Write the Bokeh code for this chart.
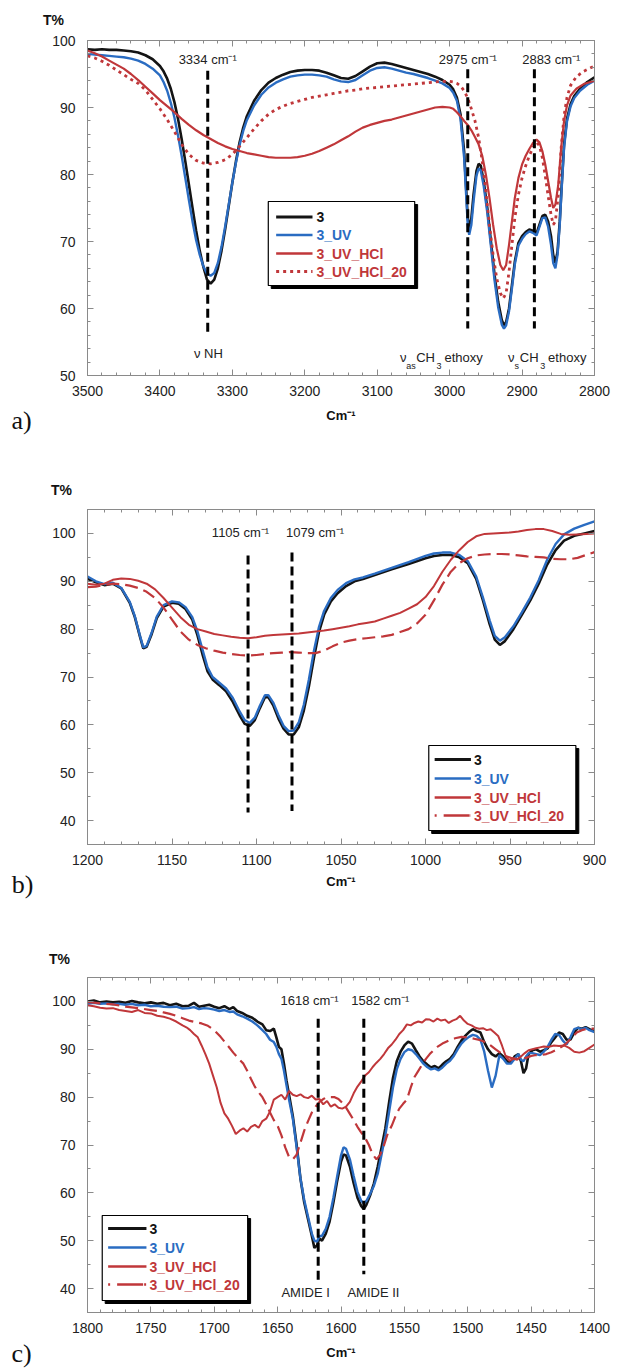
from bokeh.plotting import figure
from bokeh.models import (Range1d, LinearAxis, SingleIntervalTicker, Label,
                          CustomJSTickFormatter)
from bokeh.layouts import column
from bokeh.embed import file_html
from bokeh.resources import INLINE

# ---------------------------------------------------------------- data
# a) N-H / C-H stretching region
A_WN = [3500, 3490, 3480, 3470, 3460, 3450, 3440, 3430, 3420, 3410,
        3400, 3395, 3390, 3385, 3380, 3375, 3370, 3365, 3360, 3355,
        3350, 3345, 3340, 3335, 3330, 3325, 3320, 3315, 3310, 3305,
        3300, 3295, 3290, 3285, 3280, 3270, 3260, 3250, 3240, 3230,
        3220, 3210, 3200, 3190, 3180, 3170, 3160, 3150, 3140, 3130,
        3120, 3110, 3100, 3090, 3080, 3070, 3060, 3050, 3040, 3030,
        3020, 3010, 3000, 2995, 2990, 2985, 2980, 2977, 2975, 2973,
        2970, 2967, 2963, 2960, 2957, 2953, 2948, 2943, 2938, 2933,
        2928, 2925, 2922, 2918, 2914, 2910, 2905, 2900, 2895, 2890,
        2885, 2880, 2876, 2872, 2868, 2864, 2860, 2857, 2854, 2851,
        2848, 2845, 2842, 2838, 2833, 2828, 2820, 2810, 2800]
A_T_3 = [98.7, 98.6, 98.7, 98.6, 98.6, 98.5, 98.4, 98.2, 97.8, 97.2,
         96.2, 95.4, 94.3, 92.8, 90.8, 88.3, 85.3, 82.0, 78.5, 75.0,
         71.6, 68.6, 66.2, 64.3, 63.7, 64.3, 66.0, 68.6, 71.8, 75.3,
         78.8, 82.0, 84.8, 87.0, 88.7, 91.0, 92.6, 93.7, 94.4, 94.9,
         95.3, 95.5, 95.6, 95.6, 95.5, 95.2, 94.8, 94.4, 94.3, 94.7,
         95.4, 96.1, 96.6, 96.7, 96.5, 96.2, 95.9, 95.6, 95.3, 95.0,
         94.6, 94.1, 93.4, 92.7, 91.5, 89.0, 83.5, 77.5, 73.5, 72.0,
         73.5, 77.0, 80.5, 81.6, 81.3, 79.0, 75.0, 70.0, 65.0, 61.0,
         58.3, 57.5, 58.0, 60.0, 63.5, 67.0, 69.8, 70.8, 71.4, 71.8,
         71.6, 71.2, 72.5, 73.8, 74.0, 73.0, 70.8, 68.0, 66.8, 68.5,
         73.0, 79.0, 84.5, 88.3, 90.5, 91.7, 92.8, 93.8, 94.5]
A_T_3UV = [98.0, 97.9, 97.8, 97.7, 97.6, 97.5, 97.3, 97.0, 96.5, 95.8,
           94.8, 93.8, 92.5, 90.7, 88.5, 85.8, 82.8, 79.5, 76.2, 73.0,
           70.2, 68.0, 66.3, 65.2, 64.9, 65.3, 66.8, 69.2, 72.2, 75.5,
           78.8, 81.8, 84.4, 86.5, 88.1, 90.3, 91.9, 93.0, 93.7, 94.2,
           94.6, 94.8, 94.9, 94.9, 94.8, 94.6, 94.2, 93.9, 93.8, 94.1,
           94.8, 95.5, 95.9, 96.0, 95.8, 95.5, 95.2, 95.0, 94.7, 94.4,
           94.0, 93.6, 92.9, 92.2, 91.0, 88.3, 82.5, 76.5, 72.5, 71.0,
           72.5, 76.0, 79.8, 80.9, 80.6, 78.3, 74.3, 69.3, 64.2, 60.2,
           57.6, 57.0, 57.5, 59.6, 63.0, 66.6, 69.4, 70.4, 71.1, 71.5,
           71.3, 70.9, 72.2, 73.5, 73.6, 72.2, 69.5, 66.8, 66.0, 68.0,
           72.5, 78.5, 84.0, 87.9, 90.2, 91.4, 92.5, 93.4, 94.0]
A_WN_HCL = [3500, 3490, 3480, 3470, 3460, 3450, 3440, 3430, 3420, 3410,
            3400, 3390, 3380, 3370, 3360, 3350, 3340, 3330, 3320, 3310,
            3300, 3290, 3280, 3270, 3260, 3250, 3240, 3230, 3220, 3210,
            3200, 3190, 3180, 3170, 3160, 3150, 3140, 3130, 3120, 3110,
            3100, 3090, 3080, 3070, 3060, 3050, 3040, 3030, 3020, 3010,
            3000, 2995, 2990, 2985, 2980, 2975, 2970, 2965, 2960, 2955,
            2950, 2945, 2940, 2935, 2930, 2926, 2922, 2918, 2914, 2910,
            2905, 2900, 2895, 2890, 2885, 2880, 2876, 2872, 2868, 2864,
            2860, 2857, 2854, 2850, 2846, 2842, 2838, 2833, 2825, 2815,
            2800]
A_T_HCL = [98.5, 98.1, 97.6, 97.0, 96.4, 95.8, 95.0, 94.1, 93.1, 92.1,
           91.1, 90.2, 89.3, 88.3, 87.4, 86.6, 85.9, 85.3, 84.7, 84.2,
           83.8, 83.5, 83.2, 83.0, 82.8, 82.6, 82.5, 82.5, 82.5, 82.6,
           82.8, 83.1, 83.5, 84.0, 84.5, 85.1, 85.7, 86.4, 87.0, 87.4,
           87.7, 88.0, 88.2, 88.5, 88.8, 89.1, 89.4, 89.7, 90.0, 90.1,
           90.0, 89.8, 89.3, 88.7, 88.0, 87.4, 86.6, 85.6, 84.5, 82.8,
           80.0, 76.5, 72.5, 69.0, 66.5, 65.7, 66.5, 69.5, 73.0, 76.5,
           79.5, 81.5, 82.8, 83.8, 84.7, 85.2, 84.8, 83.5, 81.5, 79.0,
           76.5, 75.0, 75.5, 78.5, 84.0, 88.0, 90.3, 91.8, 92.8, 93.5,
           94.0]
A_T_HCL20 = [97.7, 97.4, 96.9, 96.3, 95.6, 94.9, 94.2, 93.6, 92.6, 91.2,
             89.8, 88.2, 86.4, 84.5, 83.0, 82.1, 81.7, 81.6, 81.8, 82.2,
             83.0, 84.2, 85.5, 86.8, 88.0, 89.0, 89.7, 90.2, 90.6, 90.9,
             91.2, 91.5, 91.7, 91.9, 92.1, 92.3, 92.5, 92.6, 92.8, 92.9,
             93.0, 93.1, 93.2, 93.3, 93.4, 93.5, 93.6, 93.7, 93.8, 93.9,
             93.9, 93.8, 93.6, 93.2, 92.5, 91.4, 89.8, 88.0, 85.5, 82.0,
             77.5, 72.5, 68.0, 64.5, 62.3, 61.5, 62.3, 65.5, 69.5, 73.5,
             77.0, 79.5, 81.3, 82.8, 84.0, 84.8, 84.3, 82.5, 79.8, 76.8,
             74.0, 72.5, 73.0, 77.0, 84.0, 88.8, 91.5, 93.3, 94.6, 95.4,
             96.2]
A_MARK_WN = [3334, 2975, 2883]
A_MARK_TOP = [95.5, 95.7, 95.7]
A_MARK_BOTTOM = [56.5, 57.0, 57.0]

# b) Si-O-C / Si-O-Si region
B_WN = [1200, 1195, 1190, 1185, 1180, 1175, 1172, 1169, 1167, 1165,
        1162, 1159, 1155, 1150, 1146, 1142, 1138, 1135, 1132, 1129,
        1126, 1122, 1118, 1114, 1110, 1107, 1104, 1101, 1098, 1095,
        1093, 1090, 1087, 1084, 1081, 1078, 1075, 1072, 1069, 1066,
        1063, 1060, 1056, 1052, 1047, 1042, 1037, 1030, 1020, 1010,
        1000, 995, 990, 985, 980, 975, 970, 966, 962, 959,
        956, 953, 948, 943, 938, 933, 928, 923, 918, 912,
        906, 900]
B_T_3 = [90.5, 89.8, 89.2, 89.5, 88.5, 85.5, 82.5, 78.5, 76.0, 76.3,
         79.0, 82.3, 84.7, 85.5, 85.3, 84.2, 82.0, 78.8, 74.8, 71.2,
         69.5, 68.3, 67.0, 64.8, 62.0, 60.2, 59.8, 61.0, 63.5, 65.8,
         65.8, 64.0, 61.3, 59.2, 58.0, 58.0, 59.5, 63.0, 68.0, 74.0,
         79.5, 83.0, 85.8, 87.5, 89.0, 90.0, 90.5, 91.3, 92.5, 93.6,
         94.8, 95.3, 95.5, 95.5, 95.0, 93.8, 90.5, 86.0, 81.0, 77.8,
         76.7, 77.5, 80.0, 83.0, 86.0, 89.5, 93.5, 96.5, 98.5, 99.5,
         100.0, 100.5]
B_T_3UV = [91.0, 90.0, 89.4, 89.7, 88.6, 85.7, 82.7, 78.7, 76.2, 76.5,
           79.3, 82.6, 85.0, 85.8, 85.6, 84.6, 82.5, 79.6, 75.8, 72.0,
           70.0, 68.8, 67.6, 65.6, 62.8, 61.0, 60.4, 61.5, 64.0, 66.2,
           66.2, 64.6, 62.0, 59.8, 58.7, 58.8, 60.5, 64.2, 69.5, 75.5,
           80.5, 83.8, 86.5, 88.2, 89.6, 90.4, 90.8, 91.6, 92.8, 94.0,
           95.3, 95.8, 96.0, 96.0, 95.5, 94.2, 91.0, 86.6, 81.8, 78.6,
           77.6, 78.3, 80.6, 83.5, 86.6, 90.2, 94.5, 97.8, 99.8, 101.0,
           101.8, 102.5]
B_WN_HCL = [1200, 1195, 1190, 1185, 1180, 1175, 1170, 1165, 1160, 1155,
            1150, 1145, 1140, 1135, 1130, 1125, 1120, 1115, 1110, 1105,
            1100, 1095, 1090, 1085, 1080, 1075, 1070, 1065, 1060, 1055,
            1050, 1045, 1040, 1035, 1030, 1025, 1020, 1015, 1010, 1005,
            1000, 995, 990, 985, 980, 975, 970, 965, 960, 955,
            950, 945, 940, 935, 930, 925, 920, 915, 910, 905,
            900]
B_T_HCL = [89.5, 89.3, 89.5, 90.3, 90.6, 90.5, 90.1, 89.5, 88.3, 86.5,
           84.5, 82.5, 80.9, 80.0, 79.5, 79.0, 78.7, 78.4, 78.2, 78.1,
           78.3, 78.6, 78.8, 78.9, 79.0, 79.1, 79.3, 79.5, 79.7, 80.0,
           80.3, 80.6, 81.0, 81.3, 81.6, 82.2, 82.8, 83.4, 84.3, 85.2,
           86.7, 89.0, 92.0, 94.5, 96.5, 98.2, 99.4, 99.9, 100.0, 100.1,
           100.2, 100.4, 100.7, 100.9, 100.9, 100.5, 99.9, 99.7, 99.8, 99.9,
           100.0]
B_T_HCL20 = [88.8, 88.9, 89.2, 89.5, 89.4, 89.1, 88.6, 87.8, 86.5, 84.5,
             82.0, 79.5, 77.8, 76.7, 76.0, 75.5, 75.1, 74.8, 74.6, 74.5,
             74.6, 74.8, 75.0, 75.1, 75.2, 75.1, 75.0, 75.0, 75.5, 76.4,
             77.2, 77.6, 77.9, 78.1, 78.3, 78.5, 78.8, 79.4, 80.0, 81.2,
             83.0, 86.0, 89.3, 92.0, 93.8, 94.8, 95.4, 95.6, 95.7, 95.7,
             95.6, 95.4, 95.2, 95.1, 95.0, 94.7, 94.6, 94.6, 94.9, 95.5,
             96.1]
B_MARK_WN = [1105, 1079]
B_MARK_TOP = [95.4, 96.0]
B_MARK_BOTTOM = [41.7, 42.0]

# c) amide region
C_WN = [1800, 1795, 1790, 1785, 1780, 1775, 1770, 1765, 1760, 1755,
        1750, 1745, 1740, 1735, 1730, 1725, 1720, 1716, 1712, 1708,
        1704, 1700, 1696, 1692, 1688, 1685, 1682, 1678, 1674, 1670,
        1666, 1662, 1659, 1656, 1653, 1651, 1649, 1647, 1645, 1643,
        1641, 1638, 1635, 1632, 1629, 1626, 1623, 1621, 1619, 1617,
        1615, 1612, 1609, 1606, 1603, 1600, 1598, 1596, 1593, 1590,
        1587, 1584, 1582, 1580, 1577, 1574, 1571, 1568, 1565, 1562,
        1559, 1556, 1553, 1550, 1547, 1544, 1541, 1538, 1535, 1532,
        1529, 1526, 1523, 1520, 1517, 1514, 1511, 1508, 1505, 1502,
        1499, 1496, 1493, 1490, 1487, 1484, 1481, 1478, 1475, 1472,
        1469, 1466, 1463, 1460, 1458, 1456, 1454, 1452, 1449, 1446,
        1443, 1440, 1437, 1434, 1431, 1428, 1425, 1422, 1419, 1416,
        1413, 1410, 1407, 1404, 1400]
C_T_3 = [100.0, 100.2, 99.8, 100.0, 99.8, 99.9, 99.7, 100.1, 99.8, 99.6,
         99.8, 99.5, 99.7, 99.2, 99.5, 99.0, 99.1, 99.7, 98.9, 99.1,
         99.3, 98.9, 98.6, 99.0, 98.4, 98.8, 98.0, 97.6, 97.0, 96.6,
         95.8, 95.2, 94.0, 93.8, 94.3, 92.5, 90.5, 90.0, 87.0, 83.5,
         80.5, 76.0, 70.0, 63.0, 58.0, 54.5, 51.0, 48.5, 49.0, 50.5,
         50.0, 51.5, 54.0, 58.0, 62.5, 66.5, 68.0, 67.8, 65.5, 62.0,
         59.0, 57.2, 56.6, 57.5, 59.5, 62.0, 65.5, 69.5, 73.5, 79.0,
         84.0, 87.5, 89.5, 90.8, 91.6, 91.2, 89.8, 88.5, 87.5, 86.8,
         86.2, 86.5, 86.0, 86.8, 87.5, 88.0, 89.0, 90.5, 91.8, 92.8,
         93.6, 94.2, 93.8, 93.5, 91.5, 90.0, 89.0, 88.5, 89.2, 88.5,
         87.5, 87.2, 88.5, 89.0, 87.5, 85.0, 86.0, 89.0, 89.8, 90.0,
         89.5, 89.8, 90.2, 91.5, 92.5, 93.5, 93.2, 92.0, 92.0, 93.5,
         94.5, 94.3, 94.6, 94.2, 93.8]
C_T_3UV = [99.5, 99.7, 99.5, 99.6, 99.4, 99.5, 99.3, 99.5, 99.2, 99.3,
           99.0, 99.1, 98.9, 98.8, 98.9, 98.5, 98.6, 98.8, 98.4, 98.6,
           98.5, 98.3, 98.0, 98.2, 97.8, 97.9, 97.3, 96.9, 96.4, 95.8,
           95.0, 94.0, 93.2, 92.0, 91.5, 90.5, 89.0, 88.0, 85.5, 82.5,
           79.5, 75.5, 69.5, 63.0, 58.5, 55.0, 51.5, 50.0, 49.8, 51.0,
           51.0, 52.5, 55.0, 59.0, 63.5, 67.8, 69.5, 69.2, 67.0, 63.5,
           60.2, 58.3, 57.8, 58.3, 59.8, 61.5, 64.0, 68.0, 72.0, 77.0,
           82.0, 85.8, 88.0, 89.4, 90.0, 89.8, 89.0, 88.0, 87.0, 86.3,
           85.8, 86.0, 85.6, 86.2, 87.0, 87.6, 88.6, 90.0, 91.2, 92.0,
           92.6, 93.0, 92.8, 92.0, 89.5, 85.5, 82.0, 84.5, 88.8, 88.0,
           87.0, 87.0, 88.0, 89.0, 87.8, 87.5, 88.5, 89.2, 89.2, 89.0,
           88.8, 89.5, 90.5, 92.0, 93.2, 93.0, 91.8, 91.0, 92.5, 94.2,
           94.5, 94.2, 94.5, 94.0, 93.6]
C_WN_HCL = [1800, 1795, 1790, 1785, 1780, 1775, 1770, 1765, 1760, 1755,
            1750, 1745, 1740, 1735, 1730, 1725, 1722, 1719, 1716, 1713,
            1710, 1707, 1704, 1701, 1698, 1695, 1692, 1689, 1686, 1683,
            1680, 1677, 1674, 1671, 1668, 1665, 1662, 1659, 1656, 1653,
            1650, 1647, 1644, 1641, 1638, 1635, 1632, 1629, 1626, 1623,
            1620, 1617, 1614, 1611, 1608, 1605, 1602, 1599, 1596, 1593,
            1590, 1587, 1584, 1581, 1578, 1575, 1572, 1569, 1566, 1563,
            1560, 1557, 1554, 1551, 1548, 1545, 1542, 1539, 1536, 1533,
            1530, 1527, 1524, 1521, 1518, 1515, 1512, 1509, 1506, 1503,
            1500, 1497, 1494, 1491, 1488, 1485, 1482, 1479, 1476, 1473,
            1470, 1467, 1464, 1461, 1458, 1455, 1452, 1449, 1446, 1443,
            1440, 1436, 1432, 1428, 1424, 1420, 1416, 1412, 1408, 1404,
            1400]
C_T_HCL = [99.2, 99.0, 98.7, 98.5, 98.6, 98.2, 98.0, 97.8, 98.2, 97.6,
           97.5, 97.0, 96.8, 96.4, 95.8, 95.0, 94.6, 94.0, 93.2, 92.5,
           90.8, 89.0, 87.0, 84.5, 82.0, 78.8, 76.6, 75.5, 74.0, 72.3,
           73.0, 73.5, 72.8, 73.8, 74.2, 73.6, 75.0, 75.5, 77.0, 79.5,
           80.0, 80.5, 79.5, 81.3, 80.5, 80.2, 80.6, 80.0, 79.8, 80.3,
           79.5, 79.6, 78.5, 79.2, 78.0, 78.5, 77.8, 77.6, 78.0, 79.0,
           80.8, 82.2, 83.3, 84.5, 85.2, 86.3, 87.2, 88.0, 89.0, 90.2,
           91.0, 92.0, 93.2, 94.0, 95.2, 95.0, 95.5, 95.8, 95.6, 96.3,
           96.2, 95.8, 96.4, 96.0, 96.2, 95.5, 96.0, 96.3, 97.0, 96.0,
           95.3, 95.0, 94.5, 94.3, 94.4, 94.0, 94.2, 93.5, 92.8, 90.8,
           88.5, 87.6, 88.0, 87.8, 88.5, 89.2, 89.8, 90.0, 90.2, 90.4,
           90.6, 90.5, 90.8, 90.7, 90.8, 90.3, 89.5, 89.3, 89.6, 90.3,
           91.0]
C_WN_HCL20 = [1800, 1790, 1780, 1770, 1760, 1750, 1745, 1740, 1735, 1730,
              1725, 1720, 1715, 1710, 1705, 1700, 1695, 1690, 1685, 1680,
              1677, 1674, 1671, 1668, 1665, 1662, 1659, 1656, 1653, 1650,
              1647, 1644, 1641, 1638, 1635, 1632, 1629, 1626, 1623, 1620,
              1617, 1614, 1611, 1608, 1605, 1602, 1599, 1596, 1593, 1590,
              1587, 1584, 1581, 1578, 1575, 1572, 1569, 1566, 1563, 1560,
              1557, 1554, 1551, 1548, 1545, 1542, 1539, 1536, 1533, 1530,
              1527, 1524, 1520, 1515, 1510, 1505, 1500, 1495, 1490, 1486,
              1482, 1478, 1474, 1470, 1466, 1462, 1458, 1454, 1450, 1446,
              1442, 1438, 1434, 1430, 1426, 1422, 1418, 1414, 1410, 1405,
              1400]
C_T_HCL20 = [99.9, 99.6, 99.4, 98.9, 98.6, 98.2, 98.0, 97.7, 97.4, 97.0,
             96.5, 96.0, 95.7, 95.4, 94.9, 94.0, 92.6, 91.0, 89.3, 87.8,
             87.0, 85.5, 83.8, 82.2, 81.0, 80.0, 78.5, 76.8, 75.2, 74.0,
             72.0, 69.5, 67.5, 67.0, 68.0, 70.5, 73.0, 75.0, 76.8, 78.0,
             79.0, 79.6, 80.0, 80.0, 80.0, 79.6, 78.8, 77.8, 76.5, 75.2,
             73.8, 72.6, 71.5, 70.0, 68.0, 67.0, 68.0, 70.0, 72.5, 74.0,
             76.0, 77.6, 78.6, 79.5, 82.0, 84.2, 85.5, 86.8, 88.0, 89.0,
             89.8, 90.5, 91.2, 91.8, 92.3, 92.6, 92.5, 92.2, 91.9, 91.5,
             90.8, 90.0, 89.2, 88.6, 88.2, 88.0, 88.0, 88.2, 88.6, 88.8,
             88.8, 89.0, 89.4, 89.9, 90.5, 91.3, 92.4, 93.5, 94.0, 94.3,
             94.3]
C_MARK_WN = [1618, 1582]
C_MARK_TOP = [96.4, 96.4]
C_MARK_BOTTOM = [41.5, 43.0]

SERIES_NAMES = ["3", "3_UV", "3_UV_HCl", "3_UV_HCl_20"]

# ---------------------------------------------------------------- styling
SANS = "Liberation Sans"
SERIF = "Liberation Serif"
BLACK = "#141414"
BLUE = "#2a6cc2"
RED = "#c0373a"
FRAME = "#8a8a8a"
TEXT = "#222222"
PAGE_W = 621
DOTS = "3 4"
DASHES = "13 6"
LEGEND_DASHES = "2 7 26 1"

# frame boxes in page pixels: left, top, right, bottom
GEOM = {
    "a": dict(xr=(3500, 2800), yr=(50, 100), frame=(78, 40, 594, 375),
              page_top=0, height=445, xtick=(100, 5), ytick=(10, 5),
              xlabel_standoff=9),
    "b": dict(xr=(1200, 900), yr=(35, 105), frame=(87, 509, 604, 844),
              page_top=445, height=470, xtick=(50, 5), ytick=(10, 2),
              xlabel_standoff=6),
    "c": dict(xr=(1800, 1400), yr=(35, 105), frame=(86, 977, 602, 1312),
              page_top=915, height=455, xtick=(50, 5), ytick=(10, 2),
              xlabel_standoff=9),
}


def to_x(g, px):
    l, _, r, _ = g["frame"]
    x0, x1 = g["xr"]
    return x0 + (px - l) / (r - l) * (x1 - x0)


def to_y(g, py):
    _, t, _, b = g["frame"]
    y0, y1 = g["yr"]
    return y1 - (py - t) / (b - t) * (y1 - y0)


def style_axis(ax, labelled, standoff):
    ax.axis_line_color = FRAME
    ax.major_tick_line_color = FRAME
    ax.minor_tick_line_color = FRAME
    ax.major_tick_in = 6
    ax.major_tick_out = 0
    ax.minor_tick_in = 3
    ax.minor_tick_out = 0
    ax.major_label_text_font = SANS
    ax.major_label_text_color = TEXT
    if labelled:
        ax.major_label_text_font_size = "14px"
        ax.major_label_standoff = standoff
    else:
        ax.formatter = CustomJSTickFormatter(code="return ''")
        ax.major_label_text_font_size = "0px"
        ax.major_label_standoff = 0


def make_panel(g):
    l, t, r, b = g["frame"]
    p = figure(width=PAGE_W, height=g["height"],
               x_range=Range1d(*g["xr"]), y_range=Range1d(*g["yr"]),
               x_axis_type=None, y_axis_type=None,
               output_backend="svg", toolbar_location=None,
               min_border_left=l, min_border_right=PAGE_W - r,
               min_border_top=t - g["page_top"],
               min_border_bottom=g["page_top"] + g["height"] - b)
    p.outline_line_color = FRAME
    p.outline_line_width = 1
    p.background_fill_color = "white"
    p.border_fill_color = "white"
    xi, xm = g["xtick"]
    yi, ym = g["ytick"]
    bottom = LinearAxis(ticker=SingleIntervalTicker(interval=xi, num_minor_ticks=xm))
    style_axis(bottom, True, 10)
    bottom.axis_label = "Cm⁻¹"
    bottom.axis_label_text_font = SANS
    bottom.axis_label_text_font_size = "13px"
    bottom.axis_label_text_font_style = "bold"
    bottom.axis_label_text_color = "#111111"
    bottom.axis_label_standoff = g["xlabel_standoff"]
    p.add_layout(bottom, "below")
    top = LinearAxis(ticker=SingleIntervalTicker(interval=xi, num_minor_ticks=xm))
    style_axis(top, False, 0)
    p.add_layout(top, "above")
    for place, labelled in (("left", True), ("right", False)):
        ax = LinearAxis(ticker=SingleIntervalTicker(interval=yi, num_minor_ticks=ym))
        style_axis(ax, labelled, 12)
        p.add_layout(ax, place)
    return p


def text(p, g, px, py, s, size=13, bold=False, color=TEXT, align="center",
         baseline="middle", font=SANS):
    """Text inside the plot frame, placed in data space."""
    p.add_layout(Label(x=to_x(g, px), y=to_y(g, py), text=s,
                       text_font=font, text_font_size=f"{size}px",
                       text_font_style="bold" if bold else "normal",
                       text_color=color, text_align=align,
                       text_baseline=baseline))


def margin_text(p, g, side, px, py, s, size=13, bold=False, font=SANS):
    """Text in a figure margin, placed in canvas pixels."""
    p.add_layout(Label(x=px, y=py - g["page_top"], x_units="canvas",
                       y_units="canvas", text=s, text_font=font,
                       text_font_size=f"{size}px",
                       text_font_style="bold" if bold else "normal",
                       text_color="#111111", text_align="center",
                       text_baseline="middle"), side)


def text_at(p, g, x, py, s, size=13, color=TEXT):
    p.add_layout(Label(x=x, y=to_y(g, py), text=s, text_font=SANS,
                       text_font_size=f"{size}px", text_color=color,
                       text_align="center", text_baseline="middle"))


def markers(p, xs, tops, bottoms):
    p.segment(x0=xs, y0=tops, x1=xs, y1=bottoms, line_color="black",
              line_width=3, line_dash="9 5")


def legend(p, g, box, line_x, text_x, rows, styles):
    l, t, r, b = box
    p.quad(left=to_x(g, l + 3), right=to_x(g, r + 3), top=to_y(g, t + 3),
           bottom=to_y(g, b + 3), fill_color="black", line_color="black")
    p.quad(left=to_x(g, l), right=to_x(g, r), top=to_y(g, t),
           bottom=to_y(g, b), fill_color="white", line_color="black",
           line_width=1.2)
    for name, row, (color, dash, width) in zip(SERIES_NAMES, rows, styles):
        yy = to_y(g, row)
        p.line(x=[to_x(g, line_x[0]), to_x(g, line_x[1])], y=[yy, yy],
               line_color=color, line_width=width, line_dash=dash)
        text(p, g, text_x, row, name, size=14, bold=True, color=color,
             align="left")


def margin_labels(p, g, letter, letter_pos, tpos):
    margin_text(p, g, "above", *tpos, "T%", size=14, bold=True)
    margin_text(p, g, "left", *letter_pos, letter, size=26, font=SERIF)


# ---------------------------------------------------------------- panel a
ga = GEOM["a"]
pa = make_panel(ga)
pa.line(A_WN, A_T_3, line_color=BLACK, line_width=2.6)
pa.line(A_WN, A_T_3UV, line_color=BLUE, line_width=2.4)
pa.line(A_WN_HCL, A_T_HCL, line_color=RED, line_width=2.2)
pa.line(A_WN_HCL, A_T_HCL20, line_color=RED, line_width=2.8, line_dash=DOTS)
markers(pa, A_MARK_WN, A_MARK_TOP, A_MARK_BOTTOM)
text_at(pa, ga, A_MARK_WN[0], 59, f"{A_MARK_WN[0]} cm⁻¹")
text_at(pa, ga, A_MARK_WN[1], 59, f"{A_MARK_WN[1]} cm⁻¹")
text(pa, ga, 550, 59, f"{A_MARK_WN[2]} cm⁻¹")
text(pa, ga, 201, 353, "ν NH")
# asymmetric / symmetric CH3 stretch labels with subscripts
for x0, sub in ((396, "as"), (506, "s")):
    w_sub = 9.5 if sub == "as" else 5
    text(pa, ga, x0, 357, "ν", align="left", baseline="alphabetic")
    text(pa, ga, x0 + 6.5, 365, sub, size=9, align="left", baseline="alphabetic")
    text(pa, ga, x0 + 7 + w_sub, 357, "CH", align="left", baseline="alphabetic")
    text(pa, ga, x0 + 9 + w_sub + 18.8, 365, "3", size=9, align="left",
         baseline="alphabetic")
    text(pa, ga, x0 + 12 + w_sub + 18.8 + 5, 357, "ethoxy", align="left",
         baseline="alphabetic")
legend(pa, ga, (262, 201, 411, 285), (270, 307), 311,
       (216.5, 234.5, 253, 271),
       [(BLACK, "solid", 3), (BLUE, "solid", 2.5), (RED, "solid", 2.5),
        (RED, DOTS, 2.8)])
margin_labels(pa, ga, "a)", (21, 420), (53, 19))

# ---------------------------------------------------------------- panel b
gb = GEOM["b"]
pb = make_panel(gb)
pb.line(B_WN, B_T_3, line_color=BLACK, line_width=2.6)
pb.line(B_WN, B_T_3UV, line_color=BLUE, line_width=2.4)
pb.line(B_WN_HCL, B_T_HCL, line_color=RED, line_width=2.0)
pb.line(B_WN_HCL, B_T_HCL20, line_color=RED, line_width=2.2, line_dash=DASHES)
markers(pb, B_MARK_WN, B_MARK_TOP, B_MARK_BOTTOM)
text(pb, gb, 243, 532, f"{B_MARK_WN[0]} cm⁻¹")
text(pb, gb, 319, 532, f"{B_MARK_WN[1]} cm⁻¹")
legend(pb, gb, (435, 745, 585, 830), (441, 478), 481,
       (759, 778, 797, 815),
       [(BLACK, "solid", 3), (BLUE, "solid", 2.5), (RED, "solid", 2.5),
        (RED, LEGEND_DASHES, 2.5)])
margin_labels(pb, gb, "b)", (22, 884), (61, 489))

# ---------------------------------------------------------------- panel c
gc = GEOM["c"]
pc = make_panel(gc)
pc.line(C_WN, C_T_3, line_color=BLACK, line_width=2.6)
pc.line(C_WN, C_T_3UV, line_color=BLUE, line_width=2.4)
pc.line(C_WN_HCL, C_T_HCL, line_color=RED, line_width=2.0)
pc.line(C_WN_HCL20, C_T_HCL20, line_color=RED, line_width=2.2, line_dash=DASHES)
markers(pc, C_MARK_WN, C_MARK_TOP, C_MARK_BOTTOM)
text(pc, gc, 312, 1000, f"{C_MARK_WN[0]} cm⁻¹")
text(pc, gc, 384, 1000, f"{C_MARK_WN[1]} cm⁻¹")
text(pc, gc, 308, 1292, "AMIDE I")
text(pc, gc, 377, 1292, "AMIDE II")
legend(pc, gc, (101, 1215, 249, 1300), (107, 146), 149,
       (1228, 1247, 1266, 1284),
       [(BLACK, "solid", 3), (BLUE, "solid", 2.5), (RED, "solid", 2.5),
        (RED, LEGEND_DASHES, 2.5)])
margin_labels(pc, gc, "c)", (21, 1353), (59, 958))

layout = column(pa, pb, pc)
open("out.html", "w").write(file_html(layout, INLINE))
